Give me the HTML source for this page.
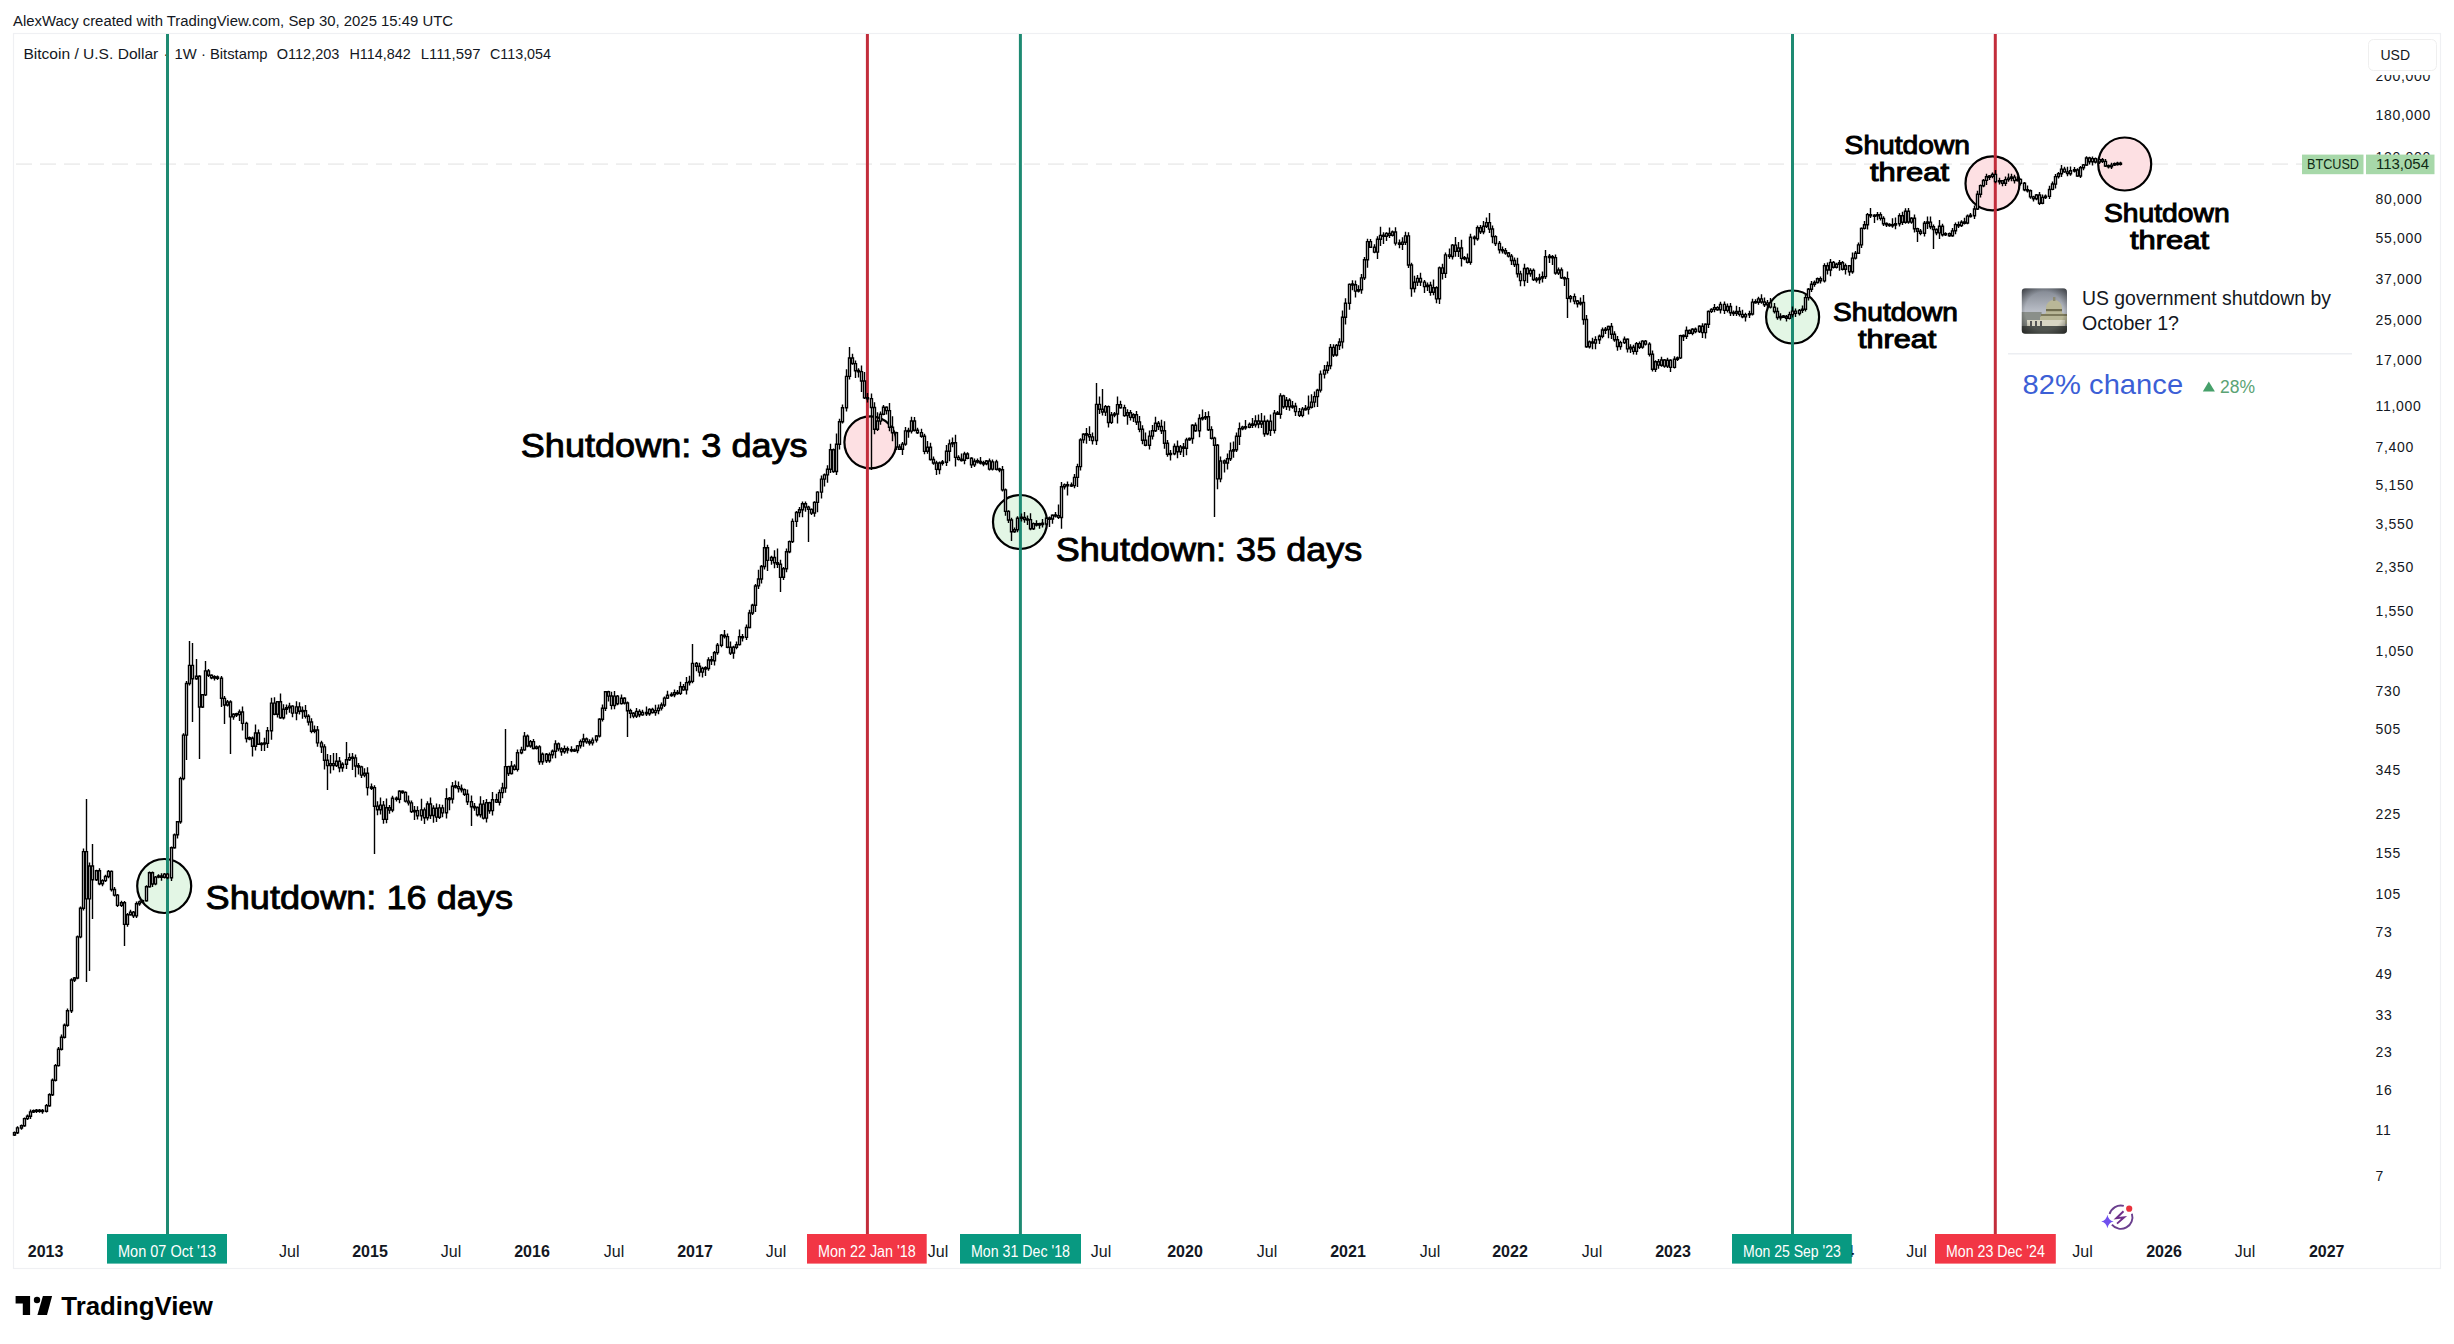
<!DOCTYPE html>
<html><head><meta charset="utf-8">
<style>
html,body{margin:0;padding:0;background:#fff;}
body{width:2454px;height:1344px;overflow:hidden;position:relative;font-family:"Liberation Sans",sans-serif;}
svg{position:absolute;left:0;top:0;}
text{font-family:"Liberation Sans",sans-serif;}
</style></head>
<body>
<svg width="2454" height="1344" viewBox="0 0 2454 1344">
<defs>
<clipPath id="clip200"><rect x="2360" y="75" width="80" height="20"/></clipPath>
<clipPath id="thumb"><rect x="2021.6" y="288.2" width="45.4" height="45.5" rx="4"/></clipPath>
<linearGradient id="sky" x1="0" y1="0" x2="0" y2="1"><stop offset="0" stop-color="#7f858f"/><stop offset="0.5" stop-color="#b9bdc6"/><stop offset="1" stop-color="#9a9e9c"/></linearGradient>
<radialGradient id="vig" cx="0.5" cy="0.5" r="0.7"><stop offset="0.6" stop-color="#000" stop-opacity="0"/><stop offset="1" stop-color="#000" stop-opacity="0.55"/></radialGradient>
</defs>
<rect x="0" y="0" width="2454" height="1344" fill="#fff"/>
<!-- header -->
<text x="13" y="25.7" font-size="15.5" fill="#131722" textLength="440" lengthAdjust="spacingAndGlyphs">AlexWacy created with TradingView.com, Sep 30, 2025 15:49 UTC</text>
<!-- frame -->
<rect x="13.5" y="33.5" width="2427" height="1235" fill="none" stroke="#eff0f3" stroke-width="1.2"/>
<!-- legend -->
<g font-size="15" fill="#131722">
<text x="23.4" y="59.3" textLength="134.9" lengthAdjust="spacingAndGlyphs">Bitcoin / U.S. Dollar</text>
<text x="163.4" y="59.3">·</text>
<text x="174.6" y="59.3" textLength="92.9" lengthAdjust="spacingAndGlyphs">1W · Bitstamp</text>
<text x="276.7" y="59.3" textLength="62.7" lengthAdjust="spacingAndGlyphs">O112,203</text>
<text x="349.4" y="59.3" textLength="61.3" lengthAdjust="spacingAndGlyphs">H114,842</text>
<text x="420.7" y="59.3" textLength="59.9" lengthAdjust="spacingAndGlyphs">L111,597</text>
<text x="490" y="59.3" textLength="61" lengthAdjust="spacingAndGlyphs">C113,054</text>
</g>
<!-- dotted last price line -->
<line x1="13" y1="164.2" x2="2302" y2="164.2" stroke="#eeeeee" stroke-width="1.8" stroke-dasharray="16 8" stroke-dashoffset="21"/>
<!-- circles -->
<circle cx="164.2" cy="886" r="27" fill="#e3f6e5" stroke="#000" stroke-width="2.2"/>
<circle cx="870.4" cy="442.3" r="26" fill="#fde0e3" stroke="#000" stroke-width="2.2"/>
<circle cx="1020" cy="522" r="27" fill="#e3f6e5" stroke="#000" stroke-width="2.2"/>
<circle cx="1792.6" cy="317" r="26.5" fill="#e3f6e5" stroke="#000" stroke-width="2.2"/>
<circle cx="1992.5" cy="183.4" r="27" fill="#fde0e3" stroke="#000" stroke-width="2.2"/>
<circle cx="2124.7" cy="164" r="26.5" fill="#fde0e3" stroke="#000" stroke-width="2.2"/>
<!-- vertical lines -->
<g stroke-width="3">
<line x1="167.5" y1="34" x2="167.5" y2="1234" stroke="#1e8a72"/>
<line x1="867.4" y1="34" x2="867.4" y2="1234" stroke="#c22d3b"/>
<line x1="1020.4" y1="34" x2="1020.4" y2="1234" stroke="#1e8a72"/>
<line x1="1792.5" y1="34" x2="1792.5" y2="1234" stroke="#1e8a72"/>
<line x1="1995.3" y1="34" x2="1995.3" y2="1234" stroke="#c22d3b"/>
</g>
<!-- candles -->
<path d="M14.5 1131.5V1136.0M17.5 1126.2V1133.9M21.5 1124.5V1129.8M24.5 1117.4V1126.8M27.5 1114.5V1119.9M30.5 1109.4V1118.9M33.5 1109.5V1113.1M36.5 1108.9V1112.9M39.5 1108.9V1112.8M42.5 1109.0V1113.7M46.5 1104.1V1112.5M49.5 1093.3V1106.7M52.5 1078.5V1096.1M55.5 1063.9V1081.4M58.5 1046.9V1066.4M61.5 1034.4V1050.4M64.5 1023.5V1038.6M67.5 1008.5V1026.8M71.5 978.2V1013.1M74.5 977.0V982.1M77.5 935.5V979.2M80.5 906.5V938.3M83.5 848.6V910.6M86.5 799.0V982.0M89.5 862.5V971.0M92.5 844.0V919.0M96.5 869.8V880.9M99.5 868.3V885.2M102.5 879.2V886.2M105.5 874.7V881.9M108.5 869.9V878.2M111.5 870.4V891.4M114.5 887.0V896.5M117.5 893.9V906.9M121.5 900.7V906.9M124.5 900.9V946.0M127.5 912.9V926.7M130.5 909.8V915.6M133.5 911.0V918.1M136.5 901.6V918.0M139.5 900.5V905.7M142.5 899.5V902.9M146.5 885.3V901.6M149.5 871.4V887.5M152.5 871.4V886.9M155.5 875.9V885.2M158.5 874.2V878.3M161.5 873.2V880.8M164.5 873.1V878.5M167.5 872.9V879.3M171.5 846.4V881.1M174.5 833.5V848.6M177.5 820.9V838.5M180.5 776.7V823.8M183.5 733.3V780.3M186.5 680.9V760.0M189.5 641.0V685.4M192.5 643.0V722.0M196.5 659.0V679.7M199.5 675.3V759.0M202.5 693.9V707.9M205.5 661.0V696.0M208.5 668.9V677.1M211.5 674.4V679.3M214.5 675.3V680.4M217.5 675.5V680.1M221.5 676.0V707.0M224.5 696.0V724.0M227.5 700.0V706.6M230.5 700.2V754.0M233.5 713.2V719.8M236.5 712.7V717.1M239.5 709.6V721.1M242.5 706.4V730.4M246.5 721.8V742.4M249.5 736.5V740.3M252.5 736.4V756.6M255.5 724.4V750.4M258.5 729.6V745.1M261.5 742.2V750.9M264.5 737.8V751.1M267.5 727.1V747.9M271.5 697.8V739.7M274.5 697.2V715.2M277.5 700.9V717.5M280.5 693.6V718.8M283.5 704.3V719.4M286.5 704.6V714.4M289.5 702.8V712.7M292.5 705.2V717.2M296.5 701.3V720.3M299.5 702.3V714.4M302.5 706.5V718.7M305.5 705.1V718.6M308.5 714.2V725.4M311.5 718.3V733.2M314.5 725.6V733.3M317.5 726.0V746.7M321.5 740.8V753.1M324.5 744.3V769.5M327.5 754.1V790.0M330.5 755.0V773.5M333.5 753.1V770.2M336.5 752.9V766.9M339.5 756.9V772.2M342.5 762.2V771.8M346.5 742.0V769.1M349.5 753.2V761.0M352.5 753.0V769.9M355.5 754.5V777.2M358.5 763.1V774.6M361.5 765.8V778.0M364.5 768.3V777.2M367.5 767.2V795.6M371.5 783.5V790.1M374.5 785.2V854.0M377.5 801.2V815.3M380.5 797.5V814.5M383.5 801.0V823.7M386.5 798.4V823.2M389.5 804.9V813.7M392.5 795.7V812.3M396.5 796.6V801.5M399.5 790.3V803.3M402.5 790.5V793.7M405.5 791.6V802.6M408.5 795.4V805.4M411.5 800.4V813.1M414.5 805.9V819.9M417.5 806.2V819.5M421.5 798.8V820.7M424.5 807.6V823.9M427.5 801.2V820.5M430.5 797.4V819.0M433.5 805.2V822.7M436.5 803.6V822.1M439.5 804.2V819.1M442.5 804.8V817.2M446.5 788.2V818.5M449.5 797.1V810.3M452.5 782.1V803.5M455.5 780.5V788.5M458.5 781.4V792.5M461.5 784.4V792.6M464.5 788.6V796.0M467.5 789.4V805.0M471.5 795.4V826.0M474.5 803.1V810.7M477.5 806.5V816.4M480.5 796.3V817.5M483.5 799.9V819.6M486.5 799.0V822.4M489.5 801.8V813.8M492.5 792.1V815.5M496.5 793.7V803.0M499.5 789.4V805.6M502.5 782.8V798.3M505.5 729.0V792.7M508.5 765.7V776.0M511.5 760.9V774.4M514.5 764.2V770.4M517.5 749.6V771.4M521.5 746.8V754.2M524.5 732.0V750.8M527.5 734.6V747.2M530.5 740.0V747.7M533.5 738.9V749.3M536.5 745.6V749.4M539.5 745.2V764.7M542.5 752.4V764.7M546.5 753.1V763.0M549.5 752.6V762.8M552.5 749.5V758.6M555.5 740.2V758.2M558.5 742.5V751.3M561.5 747.3V755.8M564.5 745.5V753.8M567.5 746.6V753.6M571.5 746.3V752.3M574.5 748.6V752.0M577.5 745.0V753.3M580.5 739.4V748.5M583.5 733.7V746.7M586.5 737.5V743.7M589.5 739.2V745.5M592.5 737.5V745.6M596.5 735.2V742.6M599.5 718.3V737.6M602.5 704.5V721.4M605.5 690.9V711.0M608.5 690.8V701.4M611.5 691.7V709.4M614.5 691.0V709.3M617.5 695.1V705.3M621.5 694.6V704.5M624.5 697.2V704.6M627.5 701.6V737.0M630.5 708.7V718.2M633.5 712.2V718.2M636.5 708.1V717.9M639.5 709.3V717.2M642.5 709.7V715.7M646.5 706.6V716.0M649.5 708.3V715.7M652.5 707.7V713.5M655.5 704.8V715.7M658.5 704.5V714.2M661.5 702.4V710.6M664.5 696.5V707.1M667.5 690.8V699.0M671.5 692.2V696.7M674.5 689.5V697.3M677.5 690.1V694.8M680.5 681.7V695.0M683.5 684.0V690.7M686.5 677.0V694.5M689.5 675.8V685.4M692.5 644.0V683.2M696.5 662.1V671.2M699.5 662.8V676.6M702.5 666.7V677.6M705.5 666.3V676.1M708.5 657.2V670.8M711.5 656.0V665.1M714.5 651.1V665.4M717.5 642.9V654.8M721.5 634.1V647.2M724.5 630.0V638.5M727.5 633.4V648.2M730.5 641.5V655.1M733.5 645.8V658.7M736.5 641.6V649.3M739.5 629.4V645.6M742.5 633.9V641.6M746.5 624.6V639.9M749.5 609.8V628.3M752.5 603.8V614.9M755.5 584.1V611.9M758.5 569.7V589.1M761.5 565.1V583.6M764.5 539.2V569.6M767.5 544.7V571.1M771.5 555.7V564.8M774.5 550.3V568.3M777.5 548.6V568.1M780.5 559.8V592.0M783.5 567.0V580.1M786.5 548.4V572.2M789.5 540.6V553.2M792.5 518.6V543.0M796.5 511.0V527.0M799.5 507.1V517.3M802.5 501.5V517.2M805.5 501.5V511.7M808.5 505.7V542.0M811.5 508.4V515.1M814.5 501.3V516.7M817.5 491.2V512.2M821.5 475.5V498.5M824.5 473.6V486.5M827.5 465.3V482.7M830.5 443.8V473.0M833.5 448.6V472.8M836.5 433.6V475.1M839.5 418.8V449.5M842.5 404.5V423.6M846.5 369.2V411.6M849.5 347.0V379.5M852.5 353.7V364.7M855.5 360.5V377.9M858.5 368.2V377.6M861.5 365.6V392.1M864.5 372.1V398.9M867.5 392.9V402.4M871.5 393.5V470.0M874.5 402.3V434.2M877.5 412.3V431.1M880.5 411.6V424.7M883.5 404.9V415.3M886.5 406.4V414.5M889.5 402.9V431.2M892.5 416.3V441.2M896.5 431.8V449.9M899.5 444.3V450.1M902.5 442.1V454.9M905.5 426.9V445.8M908.5 427.8V437.7M911.5 416.7V433.6M914.5 416.9V431.5M917.5 427.7V434.1M921.5 428.7V437.8M924.5 433.7V454.2M927.5 441.0V453.7M930.5 442.8V460.6M933.5 456.4V464.8M936.5 460.8V475.1M939.5 461.4V474.3M942.5 460.1V465.4M946.5 445.1V465.9M949.5 439.6V461.2M952.5 437.5V447.2M955.5 434.8V466.4M958.5 455.2V460.4M961.5 453.6V461.4M964.5 451.7V464.2M967.5 452.3V459.3M971.5 457.2V468.1M974.5 458.4V467.0M977.5 458.5V463.6M980.5 456.9V464.4M983.5 460.7V466.2M986.5 459.9V465.3M989.5 458.6V470.4M992.5 459.6V470.6M996.5 459.8V470.4M999.5 467.8V472.2M1002.5 466.0V491.6M1005.5 488.4V515.8M1008.5 510.2V522.9M1011.5 517.8V541.0M1014.5 527.6V532.7M1017.5 516.3V532.2M1021.5 513.5V521.6M1024.5 512.1V522.8M1027.5 515.5V525.0M1030.5 513.3V530.3M1033.5 522.6V530.1M1036.5 520.3V526.4M1039.5 522.7V528.7M1042.5 518.9V527.6M1046.5 517.3V525.8M1049.5 516.5V526.9M1052.5 514.4V523.7M1055.5 512.0V517.5M1058.5 504.4V519.1M1061.5 482.0V528.8M1064.5 483.6V489.6M1067.5 481.6V495.6M1071.5 482.6V487.0M1074.5 474.0V488.3M1077.5 463.7V487.1M1080.5 438.3V470.4M1083.5 433.3V443.2M1086.5 428.1V443.8M1089.5 426.2V441.1M1092.5 432.4V444.6M1096.5 383.0V444.9M1099.5 396.4V414.1M1102.5 389.0V415.6M1105.5 404.9V415.9M1108.5 405.5V427.6M1111.5 411.9V424.1M1114.5 411.9V417.2M1117.5 396.4V423.6M1120.5 400.8V408.6M1124.5 404.7V416.8M1127.5 409.2V424.8M1130.5 410.1V420.4M1133.5 413.2V422.0M1136.5 410.9V425.1M1139.5 415.9V432.3M1142.5 425.2V444.2M1145.5 432.4V446.2M1149.5 430.6V449.4M1152.5 424.9V439.4M1155.5 416.7V432.0M1158.5 421.0V429.9M1161.5 419.7V434.0M1164.5 421.2V448.7M1167.5 440.0V456.8M1170.5 450.1V460.4M1174.5 443.6V455.3M1177.5 440.5V458.3M1180.5 445.1V454.9M1183.5 442.9V457.1M1186.5 437.8V455.3M1189.5 437.4V440.8M1192.5 424.2V443.7M1195.5 422.6V431.7M1199.5 414.3V437.3M1202.5 409.6V420.4M1205.5 411.9V420.1M1208.5 411.2V431.1M1211.5 426.2V439.5M1214.5 436.8V517.0M1217.5 444.1V489.3M1220.5 456.6V482.3M1224.5 459.6V472.5M1227.5 453.4V469.4M1230.5 442.6V460.9M1233.5 441.5V457.7M1236.5 432.4V452.1M1239.5 422.5V444.9M1242.5 425.7V430.2M1245.5 420.1V429.8M1249.5 422.6V428.3M1252.5 417.9V428.1M1255.5 415.3V427.6M1258.5 414.6V428.3M1261.5 413.1V428.0M1264.5 415.6V436.7M1267.5 419.6V435.3M1270.5 414.5V436.1M1274.5 410.0V433.5M1277.5 411.1V415.1M1280.5 393.3V418.7M1283.5 394.7V408.7M1286.5 397.0V410.0M1289.5 398.3V410.8M1292.5 401.0V408.7M1295.5 402.8V415.9M1299.5 408.0V416.9M1302.5 407.0V417.2M1305.5 405.0V410.5M1308.5 395.5V414.6M1311.5 394.2V408.5M1314.5 391.5V407.2M1317.5 388.7V406.9M1320.5 370.6V392.4M1324.5 365.1V378.5M1327.5 361.5V373.4M1330.5 344.0V369.3M1333.5 344.3V357.1M1336.5 343.9V356.4M1339.5 338.2V350.0M1342.5 310.5V348.4M1345.5 298.2V324.5M1349.5 283.5V309.8M1352.5 280.3V290.2M1355.5 280.5V297.4M1358.5 285.3V292.6M1361.5 274.1V293.7M1364.5 257.1V279.9M1367.5 238.7V267.8M1370.5 239.0V248.1M1374.5 244.2V253.2M1377.5 236.3V259.0M1380.5 226.8V245.9M1383.5 232.2V244.0M1386.5 232.2V241.1M1389.5 227.5V238.0M1392.5 230.5V236.6M1395.5 227.3V245.5M1399.5 239.4V248.2M1402.5 237.3V250.1M1405.5 231.7V245.1M1408.5 232.3V268.1M1411.5 262.8V296.8M1414.5 275.7V292.6M1417.5 275.1V286.1M1420.5 272.8V286.0M1424.5 280.1V293.1M1427.5 282.4V291.0M1430.5 281.7V295.7M1433.5 279.4V295.3M1436.5 286.3V303.2M1439.5 266.5V304.1M1442.5 263.8V279.6M1445.5 252.5V278.0M1449.5 248.6V258.7M1452.5 243.9V259.4M1455.5 236.9V256.8M1458.5 242.0V256.9M1461.5 239.8V266.4M1464.5 255.9V260.2M1467.5 253.6V263.5M1470.5 233.8V264.8M1474.5 235.5V245.2M1477.5 225.4V240.7M1480.5 225.1V234.0M1483.5 221.1V234.3M1486.5 217.4V228.0M1489.5 212.9V232.9M1492.5 225.6V243.2M1495.5 235.2V245.9M1499.5 241.0V253.4M1502.5 246.6V253.5M1505.5 247.9V254.8M1508.5 252.1V257.4M1511.5 254.1V265.0M1514.5 257.6V267.1M1517.5 257.7V277.6M1520.5 270.8V286.3M1524.5 263.7V286.3M1527.5 267.3V283.0M1530.5 268.2V276.8M1533.5 268.5V280.9M1536.5 277.0V282.5M1539.5 273.8V283.7M1542.5 271.4V282.5M1545.5 249.9V279.0M1549.5 253.9V263.1M1552.5 254.9V265.1M1555.5 254.4V274.8M1558.5 267.4V275.0M1561.5 267.4V278.9M1564.5 276.6V285.9M1567.5 271.6V318.0M1570.5 294.9V302.4M1574.5 293.4V304.2M1577.5 299.9V307.6M1580.5 297.4V305.4M1583.5 294.9V324.7M1586.5 315.0V347.8M1589.5 340.6V348.5M1592.5 337.8V349.2M1595.5 336.3V349.2M1599.5 334.6V343.9M1602.5 327.4V338.2M1605.5 326.9V333.9M1608.5 325.7V338.2M1611.5 322.9V339.1M1614.5 331.3V341.7M1617.5 336.0V350.8M1620.5 340.8V349.8M1624.5 336.5V344.0M1627.5 338.4V352.4M1630.5 344.2V352.9M1633.5 344.8V354.4M1636.5 341.9V354.8M1639.5 341.6V349.0M1642.5 340.3V348.8M1645.5 339.9V345.6M1649.5 342.3V356.6M1652.5 350.5V371.5M1655.5 360.3V372.1M1658.5 359.1V368.8M1661.5 356.8V366.8M1664.5 358.9V367.8M1667.5 357.7V367.9M1670.5 359.3V372.0M1674.5 356.3V368.4M1677.5 356.6V360.9M1680.5 334.8V358.9M1683.5 334.5V341.1M1686.5 326.4V339.1M1689.5 329.5V334.3M1692.5 328.3V335.3M1695.5 327.4V333.2M1699.5 325.3V333.1M1702.5 323.2V337.9M1705.5 323.4V338.5M1708.5 310.4V328.0M1711.5 308.3V313.0M1714.5 303.9V312.2M1717.5 306.2V310.7M1720.5 301.7V313.4M1724.5 301.4V314.0M1727.5 303.5V312.6M1730.5 303.0V315.9M1733.5 310.4V315.9M1736.5 305.7V316.1M1739.5 307.1V316.5M1742.5 309.8V318.2M1745.5 312.7V321.4M1749.5 310.7V317.9M1752.5 298.8V315.5M1755.5 299.2V303.6M1758.5 296.8V304.8M1761.5 294.3V303.8M1764.5 297.4V307.1M1767.5 299.9V308.6M1770.5 298.0V308.5M1774.5 302.9V313.6M1777.5 307.5V319.7M1780.5 313.3V320.5M1783.5 314.9V318.1M1786.5 315.1V321.4M1789.5 311.8V319.4M1792.5 306.4V317.5M1795.5 308.6V317.0M1799.5 309.1V315.5M1802.5 305.4V313.0M1805.5 294.7V311.5M1808.5 287.9V300.5M1811.5 281.0V291.9M1814.5 280.4V286.7M1817.5 277.6V283.4M1820.5 276.6V283.4M1824.5 263.2V282.4M1827.5 262.4V274.5M1830.5 259.1V276.3M1833.5 260.9V268.5M1836.5 262.8V268.4M1839.5 260.1V270.8M1842.5 261.1V270.5M1845.5 263.6V274.6M1849.5 264.9V275.8M1852.5 252.4V273.8M1855.5 251.0V259.4M1858.5 242.4V254.1M1861.5 227.5V248.0M1864.5 220.9V229.6M1867.5 212.9V229.4M1870.5 208.0V217.9M1874.5 214.2V223.1M1877.5 212.1V220.2M1880.5 212.3V220.5M1883.5 216.3V226.0M1886.5 222.6V226.9M1889.5 223.2V226.7M1892.5 218.3V227.8M1895.5 217.4V229.2M1899.5 213.3V226.6M1902.5 211.8V224.9M1905.5 208.3V223.7M1908.5 208.0V223.8M1911.5 217.3V223.7M1914.5 214.4V232.6M1917.5 227.7V242.0M1920.5 228.9V235.2M1924.5 221.1V236.5M1927.5 216.6V229.0M1930.5 216.6V229.3M1933.5 224.6V249.0M1936.5 228.6V235.2M1939.5 220.0V239.0M1942.5 223.8V236.6M1945.5 232.3V235.9M1949.5 232.5V236.7M1952.5 228.1V236.7M1955.5 222.4V234.2M1958.5 221.5V227.9M1961.5 220.3V227.0M1964.5 217.7V224.4M1967.5 214.4V224.3M1970.5 212.9V217.6M1974.5 205.6V218.9M1977.5 190.8V210.1M1980.5 184.6V197.4M1983.5 179.0V187.2M1986.5 173.7V184.9M1989.5 175.2V180.0M1992.5 172.4V178.3M1995.5 169.9V183.2M1999.5 177.8V184.6M2002.5 179.9V186.3M2005.5 176.5V186.1M2008.5 173.6V181.8M2011.5 173.7V181.2M2014.5 174.8V183.6M2017.5 176.2V181.6M2020.5 178.5V185.4M2024.5 182.1V191.3M2027.5 185.4V192.5M2030.5 189.6V198.8M2033.5 195.8V201.5M2036.5 194.0V200.3M2039.5 192.1V205.0M2042.5 194.5V204.2M2045.5 194.6V199.1M2049.5 185.7V199.0M2052.5 181.4V190.3M2055.5 173.9V188.4M2058.5 171.9V178.5M2061.5 165.1V177.1M2064.5 166.8V172.8M2067.5 166.8V176.3M2070.5 166.6V175.7M2074.5 167.1V172.4M2077.5 168.2V176.8M2080.5 166.0V177.9M2083.5 164.0V170.3M2086.5 156.3V165.8M2089.5 156.7V164.6M2092.5 156.6V165.6M2095.5 157.5V163.6M2099.5 158.3V164.0M2102.5 157.9V163.0M2105.5 159.0V167.0M2108.5 164.6V168.5M2111.5 162.8V168.9M2114.5 162.4V166.1M2117.5 161.7V165.5M2120.5 161.8V165.5" stroke="#000" stroke-width="1.4" fill="none"/>
<path d="M13.5 1132.8h2v2.2h-2zM16.5 1127.9h2v4.9h-2zM20.5 1125.8h2v2.2h-2zM23.5 1118.6h2v7.2h-2zM26.5 1116.2h2v2.4h-2zM29.5 1111.9h2v4.3h-2zM32.5 1110.8h2v1.2h-2zM35.5 1110.2h2v1.2h-2zM38.5 1110.1h2v1.2h-2zM41.5 1110.4h2v1.2h-2zM45.5 1105.6h2v5.7h-2zM48.5 1094.8h2v10.9h-2zM51.5 1080.3h2v14.5h-2zM54.5 1065.6h2v14.7h-2zM57.5 1049.3h2v16.3h-2zM60.5 1037.3h2v12.0h-2zM63.5 1025.2h2v12.1h-2zM66.5 1010.8h2v14.4h-2zM70.5 980.0h2v30.8h-2zM73.5 978.0h2v2.0h-2zM76.5 936.9h2v41.1h-2zM79.5 908.3h2v28.6h-2zM82.5 851.6h2v56.7h-2zM85.5 851.6h2v47.3h-2zM88.5 866.0h2v32.9h-2zM91.5 866.0h2v13.8h-2zM95.5 870.8h2v9.0h-2zM98.5 870.8h2v13.0h-2zM101.5 880.6h2v3.2h-2zM104.5 876.5h2v4.1h-2zM107.5 871.4h2v5.1h-2zM110.5 871.4h2v18.1h-2zM113.5 889.5h2v5.6h-2zM116.5 895.1h2v10.3h-2zM120.5 902.8h2v2.6h-2zM123.5 902.8h2v21.6h-2zM126.5 914.7h2v9.7h-2zM129.5 912.1h2v2.6h-2zM132.5 912.1h2v3.8h-2zM135.5 903.8h2v12.1h-2zM138.5 901.9h2v1.8h-2zM141.5 900.7h2v1.3h-2zM145.5 886.7h2v14.0h-2zM148.5 872.8h2v13.9h-2zM151.5 872.8h2v11.2h-2zM154.5 877.1h2v6.8h-2zM157.5 875.9h2v1.2h-2zM160.5 875.9h2v1.3h-2zM163.5 874.1h2v3.1h-2zM166.5 874.1h2v3.7h-2zM170.5 847.7h2v30.1h-2zM173.5 834.9h2v12.9h-2zM176.5 821.7h2v13.1h-2zM179.5 778.6h2v43.2h-2zM182.5 735.1h2v43.4h-2zM185.5 683.5h2v51.6h-2zM188.5 665.4h2v18.1h-2zM191.5 665.4h2v13.4h-2zM195.5 676.2h2v2.5h-2zM198.5 676.2h2v30.8h-2zM201.5 694.8h2v12.2h-2zM204.5 670.9h2v24.0h-2zM207.5 670.9h2v4.4h-2zM210.5 675.3h2v2.4h-2zM213.5 676.8h2v1.2h-2zM216.5 677.0h2v1.3h-2zM220.5 678.3h2v20.0h-2zM223.5 698.4h2v6.6h-2zM226.5 702.0h2v3.0h-2zM229.5 702.0h2v14.9h-2zM232.5 714.2h2v2.7h-2zM235.5 713.8h2v1.2h-2zM238.5 712.0h2v2.6h-2zM241.5 712.0h2v11.4h-2zM245.5 723.4h2v15.1h-2zM248.5 737.8h2v1.2h-2zM251.5 738.3h2v7.9h-2zM254.5 733.0h2v13.2h-2zM257.5 733.0h2v11.3h-2zM260.5 743.4h2v1.2h-2zM263.5 742.9h2v1.2h-2zM266.5 730.7h2v12.7h-2zM270.5 703.1h2v27.6h-2zM273.5 703.1h2v11.2h-2zM276.5 701.8h2v12.5h-2zM279.5 701.8h2v15.9h-2zM282.5 709.2h2v8.6h-2zM285.5 707.7h2v1.5h-2zM288.5 706.1h2v1.6h-2zM291.5 706.1h2v7.0h-2zM295.5 706.9h2v6.1h-2zM298.5 706.9h2v4.4h-2zM301.5 710.4h2v1.2h-2zM304.5 710.8h2v5.5h-2zM307.5 716.3h2v5.7h-2zM310.5 722.0h2v9.3h-2zM313.5 730.0h2v1.3h-2zM316.5 730.0h2v12.9h-2zM320.5 742.9h2v4.0h-2zM323.5 746.9h2v13.3h-2zM326.5 760.2h2v5.4h-2zM329.5 763.7h2v1.9h-2zM332.5 763.7h2v1.9h-2zM335.5 761.3h2v4.3h-2zM338.5 761.3h2v6.4h-2zM341.5 764.2h2v3.5h-2zM345.5 759.8h2v4.4h-2zM348.5 757.6h2v2.2h-2zM351.5 757.1h2v1.2h-2zM354.5 757.9h2v8.1h-2zM357.5 765.8h2v1.2h-2zM360.5 766.9h2v8.2h-2zM363.5 773.3h2v1.8h-2zM366.5 773.3h2v14.3h-2zM370.5 787.0h2v1.2h-2zM373.5 787.6h2v18.6h-2zM376.5 806.1h2v3.6h-2zM379.5 805.1h2v4.7h-2zM382.5 805.1h2v14.3h-2zM385.5 807.8h2v11.6h-2zM388.5 807.8h2v2.3h-2zM391.5 798.3h2v11.7h-2zM395.5 798.2h2v1.2h-2zM398.5 791.3h2v8.0h-2zM401.5 791.3h2v1.2h-2zM404.5 792.4h2v8.7h-2zM407.5 801.1h2v1.8h-2zM410.5 802.9h2v8.7h-2zM413.5 810.5h2v1.2h-2zM416.5 810.6h2v5.2h-2zM420.5 809.9h2v5.9h-2zM423.5 809.9h2v7.9h-2zM426.5 804.0h2v13.7h-2zM429.5 804.0h2v11.5h-2zM432.5 808.3h2v7.2h-2zM435.5 808.3h2v8.8h-2zM438.5 807.9h2v9.3h-2zM441.5 807.9h2v5.0h-2zM445.5 798.8h2v14.0h-2zM448.5 798.3h2v1.2h-2zM451.5 786.3h2v12.7h-2zM454.5 785.8h2v1.2h-2zM457.5 786.6h2v2.0h-2zM460.5 788.5h2v1.2h-2zM463.5 789.6h2v4.6h-2zM466.5 794.2h2v7.5h-2zM470.5 801.8h2v4.9h-2zM473.5 806.5h2v1.2h-2zM476.5 807.5h2v7.3h-2zM479.5 804.1h2v10.7h-2zM482.5 804.1h2v14.0h-2zM485.5 802.8h2v15.3h-2zM488.5 802.8h2v7.9h-2zM491.5 799.8h2v10.8h-2zM495.5 799.8h2v2.3h-2zM498.5 792.6h2v9.6h-2zM501.5 788.0h2v4.6h-2zM504.5 766.6h2v21.4h-2zM507.5 766.6h2v6.9h-2zM510.5 766.1h2v7.4h-2zM513.5 766.1h2v3.3h-2zM516.5 752.8h2v16.6h-2zM520.5 749.9h2v2.9h-2zM523.5 736.1h2v13.8h-2zM526.5 736.1h2v9.9h-2zM529.5 741.6h2v4.4h-2zM532.5 741.6h2v6.9h-2zM535.5 746.9h2v1.5h-2zM538.5 746.9h2v14.9h-2zM541.5 754.2h2v7.6h-2zM545.5 754.2h2v6.6h-2zM548.5 754.8h2v6.0h-2zM551.5 751.2h2v3.6h-2zM554.5 743.9h2v7.3h-2zM557.5 743.9h2v5.0h-2zM560.5 749.0h2v2.8h-2zM563.5 748.7h2v3.0h-2zM566.5 748.7h2v1.4h-2zM570.5 749.7h2v1.2h-2zM573.5 749.9h2v1.2h-2zM576.5 745.9h2v4.6h-2zM579.5 741.6h2v4.2h-2zM582.5 739.0h2v2.7h-2zM585.5 739.0h2v2.9h-2zM588.5 741.8h2v1.2h-2zM591.5 740.1h2v2.8h-2zM595.5 736.0h2v4.0h-2zM598.5 719.2h2v16.8h-2zM601.5 708.2h2v11.0h-2zM604.5 691.8h2v16.4h-2zM607.5 691.8h2v4.3h-2zM610.5 696.0h2v9.4h-2zM613.5 696.1h2v9.4h-2zM616.5 696.1h2v7.6h-2zM620.5 698.2h2v5.4h-2zM623.5 698.2h2v4.8h-2zM626.5 703.0h2v7.8h-2zM629.5 710.8h2v2.5h-2zM632.5 713.3h2v2.8h-2zM635.5 711.4h2v4.7h-2zM638.5 711.4h2v3.4h-2zM641.5 712.4h2v2.5h-2zM645.5 712.4h2v1.4h-2zM648.5 709.5h2v4.3h-2zM651.5 709.5h2v3.1h-2zM654.5 710.6h2v2.0h-2zM657.5 708.1h2v2.5h-2zM660.5 705.0h2v3.1h-2zM663.5 698.1h2v6.9h-2zM666.5 695.3h2v2.8h-2zM670.5 694.4h2v1.2h-2zM673.5 692.7h2v2.1h-2zM676.5 692.4h2v1.2h-2zM679.5 686.7h2v6.7h-2zM682.5 686.7h2v3.2h-2zM685.5 682.6h2v7.3h-2zM688.5 681.4h2v1.2h-2zM691.5 663.4h2v18.0h-2zM695.5 663.4h2v2.9h-2zM698.5 666.3h2v5.8h-2zM701.5 668.4h2v3.7h-2zM704.5 667.8h2v1.2h-2zM707.5 660.0h2v8.5h-2zM710.5 659.7h2v1.2h-2zM713.5 652.7h2v8.1h-2zM716.5 645.3h2v7.3h-2zM720.5 635.1h2v10.2h-2zM723.5 635.1h2v1.4h-2zM726.5 636.6h2v10.6h-2zM729.5 647.2h2v5.9h-2zM732.5 647.2h2v5.8h-2zM735.5 644.7h2v2.6h-2zM738.5 636.8h2v7.8h-2zM741.5 636.6h2v1.2h-2zM745.5 627.4h2v10.0h-2zM748.5 613.0h2v14.5h-2zM751.5 605.2h2v7.8h-2zM754.5 586.0h2v19.2h-2zM757.5 579.0h2v6.9h-2zM760.5 566.5h2v12.5h-2zM763.5 547.8h2v18.7h-2zM766.5 547.8h2v12.6h-2zM770.5 557.5h2v2.9h-2zM773.5 557.5h2v5.3h-2zM776.5 562.8h2v1.4h-2zM779.5 564.2h2v13.2h-2zM782.5 568.8h2v8.5h-2zM785.5 551.7h2v17.1h-2zM788.5 541.6h2v10.1h-2zM791.5 521.4h2v20.2h-2zM795.5 512.5h2v8.9h-2zM798.5 509.8h2v2.7h-2zM801.5 503.7h2v6.1h-2zM804.5 503.7h2v3.4h-2zM807.5 507.1h2v2.2h-2zM810.5 509.4h2v3.7h-2zM813.5 502.4h2v10.6h-2zM816.5 492.1h2v10.3h-2zM820.5 479.1h2v13.0h-2zM823.5 474.9h2v4.2h-2zM826.5 469.2h2v5.7h-2zM829.5 449.7h2v19.5h-2zM832.5 449.7h2v21.8h-2zM835.5 444.3h2v27.2h-2zM838.5 421.7h2v22.6h-2zM841.5 407.7h2v14.0h-2zM845.5 376.4h2v31.3h-2zM848.5 358.0h2v18.4h-2zM851.5 358.0h2v5.5h-2zM854.5 363.6h2v7.1h-2zM857.5 370.5h2v1.2h-2zM860.5 371.6h2v9.4h-2zM863.5 381.0h2v16.9h-2zM866.5 397.7h2v1.2h-2zM870.5 398.6h2v8.9h-2zM873.5 407.5h2v21.7h-2zM876.5 421.0h2v8.2h-2zM879.5 414.3h2v6.8h-2zM882.5 407.3h2v7.0h-2zM885.5 407.3h2v3.3h-2zM888.5 410.6h2v16.6h-2zM891.5 427.2h2v5.5h-2zM895.5 432.7h2v14.3h-2zM898.5 447.0h2v2.2h-2zM901.5 444.1h2v5.1h-2zM904.5 430.9h2v13.2h-2zM907.5 430.4h2v1.2h-2zM910.5 421.0h2v10.1h-2zM913.5 421.0h2v9.3h-2zM916.5 430.3h2v2.4h-2zM920.5 432.6h2v3.6h-2zM923.5 436.3h2v15.1h-2zM926.5 447.2h2v4.1h-2zM929.5 447.2h2v12.3h-2zM932.5 459.5h2v3.5h-2zM935.5 463.0h2v6.4h-2zM938.5 463.0h2v6.5h-2zM941.5 462.0h2v1.2h-2zM945.5 451.2h2v11.1h-2zM948.5 443.9h2v7.3h-2zM951.5 442.7h2v1.2h-2zM954.5 442.8h2v14.6h-2zM957.5 457.4h2v2.0h-2zM960.5 459.3h2v1.2h-2zM963.5 454.0h2v6.3h-2zM966.5 454.0h2v4.2h-2zM970.5 458.2h2v6.7h-2zM973.5 461.2h2v3.7h-2zM976.5 460.8h2v1.2h-2zM979.5 461.5h2v1.5h-2zM982.5 462.8h2v1.2h-2zM985.5 461.0h2v2.7h-2zM988.5 461.0h2v8.1h-2zM991.5 461.9h2v7.2h-2zM995.5 461.9h2v7.3h-2zM998.5 468.9h2v1.2h-2zM1001.5 469.8h2v20.1h-2zM1004.5 489.9h2v21.5h-2zM1007.5 511.4h2v8.6h-2zM1010.5 520.0h2v11.8h-2zM1013.5 529.7h2v2.1h-2zM1016.5 518.2h2v11.6h-2zM1020.5 517.2h2v1.2h-2zM1023.5 517.5h2v2.0h-2zM1026.5 518.9h2v1.2h-2zM1029.5 519.6h2v9.1h-2zM1032.5 523.6h2v5.2h-2zM1035.5 523.6h2v1.4h-2zM1038.5 523.8h2v1.2h-2zM1041.5 523.3h2v1.2h-2zM1045.5 518.2h2v5.8h-2zM1048.5 518.0h2v1.2h-2zM1051.5 515.3h2v3.7h-2zM1054.5 514.9h2v1.2h-2zM1057.5 515.6h2v1.8h-2zM1060.5 486.7h2v30.8h-2zM1063.5 484.9h2v1.8h-2zM1066.5 484.6h2v1.2h-2zM1070.5 484.9h2v1.2h-2zM1073.5 477.4h2v8.2h-2zM1076.5 466.6h2v10.8h-2zM1079.5 440.0h2v26.6h-2zM1082.5 434.2h2v5.7h-2zM1085.5 433.8h2v1.2h-2zM1088.5 434.6h2v2.2h-2zM1091.5 436.9h2v3.7h-2zM1095.5 404.4h2v36.1h-2zM1098.5 404.4h2v4.9h-2zM1101.5 409.3h2v2.7h-2zM1104.5 406.6h2v5.5h-2zM1107.5 406.6h2v15.9h-2zM1110.5 415.0h2v7.4h-2zM1113.5 413.9h2v1.2h-2zM1116.5 404.6h2v9.4h-2zM1119.5 404.6h2v3.2h-2zM1123.5 407.8h2v7.8h-2zM1126.5 412.8h2v2.7h-2zM1129.5 412.8h2v4.6h-2zM1132.5 414.7h2v2.8h-2zM1135.5 414.7h2v7.3h-2zM1138.5 421.9h2v7.3h-2zM1141.5 429.2h2v11.0h-2zM1144.5 440.2h2v5.1h-2zM1148.5 436.1h2v9.2h-2zM1151.5 430.8h2v5.3h-2zM1154.5 423.2h2v7.6h-2zM1157.5 423.2h2v3.3h-2zM1160.5 426.5h2v4.2h-2zM1163.5 430.7h2v12.5h-2zM1166.5 443.2h2v11.1h-2zM1169.5 453.4h2v1.2h-2zM1173.5 446.5h2v7.2h-2zM1176.5 446.5h2v5.3h-2zM1179.5 446.9h2v4.9h-2zM1182.5 446.9h2v1.4h-2zM1185.5 439.9h2v8.4h-2zM1188.5 438.5h2v1.3h-2zM1191.5 425.2h2v13.3h-2zM1194.5 425.2h2v5.6h-2zM1198.5 418.5h2v12.2h-2zM1201.5 417.6h2v1.2h-2zM1204.5 416.7h2v1.2h-2zM1207.5 416.7h2v13.1h-2zM1210.5 429.8h2v8.4h-2zM1213.5 438.1h2v7.2h-2zM1216.5 445.3h2v33.6h-2zM1219.5 461.0h2v17.9h-2zM1223.5 461.0h2v2.0h-2zM1226.5 458.7h2v4.3h-2zM1229.5 450.9h2v7.8h-2zM1232.5 449.8h2v1.2h-2zM1235.5 436.3h2v13.5h-2zM1238.5 428.7h2v7.6h-2zM1241.5 427.1h2v1.6h-2zM1244.5 426.6h2v1.2h-2zM1248.5 424.5h2v2.8h-2zM1251.5 424.0h2v1.2h-2zM1254.5 421.0h2v3.7h-2zM1257.5 421.0h2v3.0h-2zM1260.5 421.3h2v2.7h-2zM1263.5 421.3h2v12.5h-2zM1266.5 421.2h2v12.6h-2zM1269.5 421.2h2v9.1h-2zM1273.5 413.1h2v17.2h-2zM1276.5 413.0h2v1.2h-2zM1279.5 395.9h2v18.3h-2zM1282.5 395.9h2v10.8h-2zM1285.5 400.2h2v6.4h-2zM1288.5 400.2h2v6.5h-2zM1291.5 405.9h2v1.2h-2zM1294.5 406.3h2v5.3h-2zM1298.5 411.6h2v3.8h-2zM1301.5 409.1h2v6.3h-2zM1304.5 408.5h2v1.2h-2zM1307.5 407.3h2v1.8h-2zM1310.5 402.1h2v5.2h-2zM1313.5 396.6h2v5.5h-2zM1316.5 390.2h2v6.4h-2zM1319.5 374.1h2v16.0h-2zM1323.5 370.3h2v3.8h-2zM1326.5 365.8h2v4.5h-2zM1329.5 347.4h2v18.3h-2zM1332.5 347.4h2v7.6h-2zM1335.5 345.4h2v9.6h-2zM1338.5 342.0h2v3.5h-2zM1341.5 317.2h2v24.7h-2zM1344.5 303.3h2v13.9h-2zM1348.5 284.4h2v18.9h-2zM1351.5 283.9h2v1.2h-2zM1354.5 284.7h2v6.4h-2zM1357.5 289.8h2v1.3h-2zM1360.5 277.9h2v11.9h-2zM1363.5 259.8h2v18.1h-2zM1366.5 241.6h2v18.2h-2zM1369.5 241.6h2v5.6h-2zM1373.5 247.3h2v4.8h-2zM1376.5 239.3h2v12.8h-2zM1379.5 235.4h2v3.8h-2zM1382.5 235.2h2v1.2h-2zM1385.5 233.4h2v2.8h-2zM1388.5 233.4h2v1.8h-2zM1391.5 232.0h2v3.2h-2zM1394.5 232.0h2v11.1h-2zM1398.5 243.0h2v1.2h-2zM1401.5 242.1h2v2.1h-2zM1404.5 235.9h2v6.3h-2zM1407.5 235.9h2v29.1h-2zM1410.5 265.0h2v23.5h-2zM1413.5 282.2h2v6.3h-2zM1416.5 278.4h2v3.7h-2zM1419.5 278.4h2v3.6h-2zM1423.5 282.1h2v4.5h-2zM1426.5 285.2h2v1.4h-2zM1429.5 285.2h2v7.0h-2zM1432.5 287.8h2v4.5h-2zM1435.5 287.8h2v11.1h-2zM1438.5 267.9h2v30.9h-2zM1441.5 267.9h2v5.5h-2zM1444.5 254.9h2v18.5h-2zM1448.5 254.9h2v1.5h-2zM1451.5 245.1h2v11.4h-2zM1454.5 245.1h2v6.3h-2zM1457.5 248.0h2v3.3h-2zM1460.5 248.0h2v10.4h-2zM1463.5 257.7h2v1.2h-2zM1466.5 258.1h2v4.2h-2zM1469.5 237.2h2v25.1h-2zM1473.5 237.2h2v1.4h-2zM1476.5 227.8h2v10.9h-2zM1479.5 227.8h2v3.9h-2zM1482.5 226.3h2v5.4h-2zM1485.5 222.6h2v3.7h-2zM1488.5 222.6h2v6.5h-2zM1491.5 229.0h2v7.5h-2zM1494.5 236.6h2v6.9h-2zM1498.5 243.4h2v6.4h-2zM1501.5 249.6h2v1.2h-2zM1504.5 250.7h2v2.3h-2zM1507.5 253.0h2v3.1h-2zM1510.5 256.1h2v4.4h-2zM1513.5 260.5h2v4.0h-2zM1516.5 264.5h2v9.3h-2zM1519.5 273.9h2v6.7h-2zM1523.5 268.5h2v12.1h-2zM1526.5 268.5h2v5.3h-2zM1529.5 270.4h2v3.4h-2zM1532.5 270.4h2v9.1h-2zM1535.5 278.9h2v1.2h-2zM1538.5 278.0h2v1.5h-2zM1541.5 276.7h2v1.3h-2zM1544.5 256.8h2v19.8h-2zM1548.5 256.3h2v1.2h-2zM1551.5 256.7h2v1.2h-2zM1554.5 257.6h2v15.4h-2zM1557.5 270.0h2v3.1h-2zM1560.5 270.0h2v7.7h-2zM1563.5 277.6h2v1.2h-2zM1566.5 278.6h2v19.8h-2zM1569.5 296.6h2v1.9h-2zM1573.5 296.6h2v4.5h-2zM1576.5 301.0h2v2.8h-2zM1579.5 302.5h2v1.3h-2zM1582.5 302.5h2v17.0h-2zM1585.5 319.5h2v27.3h-2zM1588.5 341.9h2v4.9h-2zM1591.5 341.9h2v1.2h-2zM1594.5 339.8h2v3.3h-2zM1598.5 336.2h2v3.6h-2zM1601.5 330.0h2v6.2h-2zM1604.5 329.2h2v1.2h-2zM1607.5 326.5h2v3.0h-2zM1610.5 326.5h2v7.7h-2zM1613.5 334.2h2v5.6h-2zM1616.5 339.8h2v6.7h-2zM1619.5 342.6h2v4.0h-2zM1623.5 339.3h2v3.3h-2zM1626.5 339.3h2v9.6h-2zM1629.5 347.2h2v1.7h-2zM1632.5 347.2h2v4.2h-2zM1635.5 343.6h2v7.8h-2zM1638.5 343.6h2v3.6h-2zM1641.5 341.1h2v6.0h-2zM1644.5 341.1h2v3.0h-2zM1648.5 344.1h2v10.2h-2zM1651.5 354.3h2v15.0h-2zM1654.5 361.7h2v7.6h-2zM1657.5 361.7h2v3.4h-2zM1660.5 360.0h2v5.2h-2zM1663.5 360.0h2v6.1h-2zM1666.5 360.3h2v5.8h-2zM1669.5 360.3h2v7.1h-2zM1673.5 359.3h2v8.1h-2zM1676.5 357.9h2v1.4h-2zM1679.5 335.8h2v22.1h-2zM1682.5 335.4h2v1.2h-2zM1685.5 330.5h2v5.8h-2zM1688.5 330.5h2v2.7h-2zM1691.5 329.2h2v4.0h-2zM1694.5 329.2h2v2.3h-2zM1698.5 326.2h2v5.3h-2zM1701.5 326.2h2v6.4h-2zM1704.5 324.3h2v8.3h-2zM1707.5 311.5h2v12.8h-2zM1710.5 309.4h2v2.0h-2zM1713.5 307.6h2v1.8h-2zM1716.5 307.6h2v2.2h-2zM1719.5 304.4h2v5.4h-2zM1723.5 304.4h2v6.0h-2zM1726.5 306.5h2v3.9h-2zM1729.5 306.5h2v6.3h-2zM1732.5 312.4h2v1.2h-2zM1735.5 311.5h2v1.7h-2zM1738.5 311.5h2v2.8h-2zM1741.5 314.4h2v2.4h-2zM1744.5 314.6h2v2.3h-2zM1748.5 313.7h2v1.2h-2zM1751.5 302.1h2v11.9h-2zM1754.5 301.6h2v1.2h-2zM1757.5 298.9h2v3.4h-2zM1760.5 298.9h2v3.1h-2zM1763.5 302.0h2v2.8h-2zM1766.5 302.9h2v1.8h-2zM1769.5 302.9h2v4.2h-2zM1773.5 307.2h2v4.3h-2zM1776.5 311.5h2v6.0h-2zM1779.5 316.5h2v1.2h-2zM1782.5 316.0h2v1.2h-2zM1785.5 316.5h2v1.8h-2zM1788.5 314.6h2v3.8h-2zM1791.5 311.1h2v3.5h-2zM1794.5 311.1h2v2.3h-2zM1798.5 310.4h2v3.1h-2zM1801.5 309.2h2v1.2h-2zM1804.5 297.6h2v11.7h-2zM1807.5 289.2h2v8.4h-2zM1810.5 284.2h2v5.0h-2zM1813.5 282.5h2v1.7h-2zM1816.5 278.8h2v3.7h-2zM1819.5 278.8h2v2.0h-2zM1823.5 265.7h2v15.2h-2zM1826.5 265.7h2v4.3h-2zM1829.5 262.4h2v7.6h-2zM1832.5 262.4h2v4.9h-2zM1835.5 264.3h2v2.9h-2zM1838.5 262.7h2v1.6h-2zM1841.5 262.7h2v6.6h-2zM1844.5 265.8h2v3.4h-2zM1848.5 265.8h2v6.0h-2zM1851.5 258.1h2v13.7h-2zM1854.5 253.2h2v4.9h-2zM1857.5 244.9h2v8.3h-2zM1860.5 228.4h2v16.5h-2zM1863.5 224.8h2v3.6h-2zM1866.5 214.6h2v10.2h-2zM1869.5 214.6h2v1.2h-2zM1873.5 215.2h2v1.2h-2zM1876.5 214.7h2v1.2h-2zM1879.5 214.8h2v3.6h-2zM1882.5 218.4h2v5.3h-2zM1885.5 223.5h2v1.2h-2zM1888.5 224.4h2v1.2h-2zM1891.5 224.6h2v1.2h-2zM1894.5 223.8h2v1.2h-2zM1898.5 215.8h2v8.0h-2zM1901.5 215.8h2v6.4h-2zM1904.5 211.2h2v11.0h-2zM1907.5 211.2h2v10.8h-2zM1910.5 218.2h2v3.9h-2zM1913.5 218.2h2v10.6h-2zM1916.5 228.8h2v2.5h-2zM1919.5 231.3h2v2.0h-2zM1923.5 223.2h2v10.1h-2zM1926.5 222.0h2v1.2h-2zM1929.5 222.1h2v4.7h-2zM1932.5 226.8h2v2.7h-2zM1935.5 229.5h2v3.3h-2zM1938.5 226.2h2v6.7h-2zM1941.5 226.2h2v8.5h-2zM1944.5 233.6h2v1.2h-2zM1948.5 233.7h2v2.1h-2zM1951.5 230.9h2v4.9h-2zM1954.5 224.6h2v6.2h-2zM1957.5 224.6h2v1.2h-2zM1960.5 222.2h2v3.4h-2zM1963.5 222.0h2v1.2h-2zM1966.5 216.1h2v6.9h-2zM1969.5 215.3h2v1.2h-2zM1973.5 209.0h2v6.8h-2zM1976.5 194.3h2v14.7h-2zM1979.5 185.6h2v8.7h-2zM1982.5 180.5h2v5.2h-2zM1985.5 176.8h2v3.6h-2zM1988.5 176.0h2v1.2h-2zM1991.5 174.4h2v2.0h-2zM1994.5 174.4h2v7.2h-2zM1998.5 180.6h2v1.2h-2zM2001.5 180.8h2v2.4h-2zM2004.5 179.6h2v3.6h-2zM2007.5 178.1h2v1.5h-2zM2010.5 177.0h2v1.2h-2zM2013.5 177.1h2v3.5h-2zM2016.5 179.4h2v1.2h-2zM2019.5 179.4h2v3.8h-2zM2023.5 183.3h2v6.5h-2zM2026.5 189.7h2v1.2h-2zM2029.5 190.8h2v6.1h-2zM2032.5 196.9h2v1.8h-2zM2035.5 195.0h2v3.7h-2zM2038.5 195.0h2v8.3h-2zM2041.5 197.4h2v5.9h-2zM2044.5 196.3h2v1.2h-2zM2048.5 189.5h2v6.9h-2zM2051.5 184.0h2v5.4h-2zM2054.5 176.6h2v7.5h-2zM2057.5 173.8h2v2.7h-2zM2060.5 169.1h2v4.7h-2zM2063.5 169.1h2v2.8h-2zM2066.5 171.9h2v1.7h-2zM2069.5 170.8h2v2.9h-2zM2073.5 169.8h2v1.2h-2zM2076.5 170.0h2v6.0h-2zM2079.5 167.8h2v8.2h-2zM2082.5 164.9h2v2.9h-2zM2085.5 158.0h2v7.0h-2zM2088.5 158.0h2v3.7h-2zM2091.5 158.6h2v3.1h-2zM2094.5 158.6h2v3.4h-2zM2098.5 159.6h2v2.4h-2zM2101.5 159.6h2v1.7h-2zM2104.5 161.4h2v4.6h-2zM2107.5 165.7h2v1.2h-2zM2110.5 165.1h2v1.6h-2zM2113.5 163.7h2v1.4h-2zM2116.5 163.3h2v1.2h-2zM2119.5 163.1h2v1.2h-2z" stroke="#000" stroke-width="1.4" fill="#fff"/>
<!-- annotations -->
<text x="205.6" y="908.5" font-size="34" fill="#000" stroke="#000" stroke-width="0.9" textLength="307.4" lengthAdjust="spacingAndGlyphs">Shutdown: 16 days</text>
<text x="520.8" y="456.6" font-size="34" fill="#000" stroke="#000" stroke-width="0.9" textLength="286.8" lengthAdjust="spacingAndGlyphs">Shutdown: 3 days</text>
<text x="1055.8" y="561.3" font-size="34" fill="#000" stroke="#000" stroke-width="0.9" textLength="306.5" lengthAdjust="spacingAndGlyphs">Shutdown: 35 days</text>
<text x="1844.6" y="154.3" font-size="25.5" fill="#000" stroke="#000" stroke-width="1.0" textLength="125.3" lengthAdjust="spacingAndGlyphs">Shutdown</text>
<text x="1870" y="181.3" font-size="25.5" fill="#000" stroke="#000" stroke-width="1.0" textLength="79" lengthAdjust="spacingAndGlyphs">threat</text>
<text x="2104" y="222.2" font-size="25.5" fill="#000" stroke="#000" stroke-width="1.0" textLength="125.6" lengthAdjust="spacingAndGlyphs">Shutdown</text>
<text x="2130" y="248.8" font-size="25.5" fill="#000" stroke="#000" stroke-width="1.0" textLength="79" lengthAdjust="spacingAndGlyphs">threat</text>
<text x="1833" y="320.5" font-size="25.5" fill="#000" stroke="#000" stroke-width="1.0" textLength="124.8" lengthAdjust="spacingAndGlyphs">Shutdown</text>
<text x="1858" y="347.6" font-size="25.5" fill="#000" stroke="#000" stroke-width="1.0" textLength="78.4" lengthAdjust="spacingAndGlyphs">threat</text>
<!-- price axis -->
<text x="2375.5" y="80.9" font-size="14" letter-spacing="0.7" fill="#131722" clip-path="url(#clip200)">200,000</text>
<text x="2375.5" y="119.8" font-size="14" letter-spacing="0.7" fill="#131722">180,000</text>
<text x="2375.5" y="162.1" font-size="14" letter-spacing="0.7" fill="#131722">120,000</text>
<text x="2375.5" y="204.1" font-size="14" letter-spacing="0.7" fill="#131722">80,000</text>
<text x="2375.5" y="243.1" font-size="14" letter-spacing="0.7" fill="#131722">55,000</text>
<text x="2375.5" y="284.1" font-size="14" letter-spacing="0.7" fill="#131722">37,000</text>
<text x="2375.5" y="325.1" font-size="14" letter-spacing="0.7" fill="#131722">25,000</text>
<text x="2375.5" y="365.1" font-size="14" letter-spacing="0.7" fill="#131722">17,000</text>
<text x="2375.5" y="411.1" font-size="14" letter-spacing="0.7" fill="#131722">11,000</text>
<text x="2375.5" y="452.1" font-size="14" letter-spacing="0.7" fill="#131722">7,400</text>
<text x="2375.5" y="490.1" font-size="14" letter-spacing="0.7" fill="#131722">5,150</text>
<text x="2375.5" y="529.1" font-size="14" letter-spacing="0.7" fill="#131722">3,550</text>
<text x="2375.5" y="572.1" font-size="14" letter-spacing="0.7" fill="#131722">2,350</text>
<text x="2375.5" y="616.1" font-size="14" letter-spacing="0.7" fill="#131722">1,550</text>
<text x="2375.5" y="656.1" font-size="14" letter-spacing="0.7" fill="#131722">1,050</text>
<text x="2375.5" y="696.1" font-size="14" letter-spacing="0.7" fill="#131722">730</text>
<text x="2375.5" y="734.1" font-size="14" letter-spacing="0.7" fill="#131722">505</text>
<text x="2375.5" y="774.7" font-size="14" letter-spacing="0.7" fill="#131722">345</text>
<text x="2375.5" y="819.3" font-size="14" letter-spacing="0.7" fill="#131722">225</text>
<text x="2375.5" y="858.4" font-size="14" letter-spacing="0.7" fill="#131722">155</text>
<text x="2375.5" y="898.6" font-size="14" letter-spacing="0.7" fill="#131722">105</text>
<text x="2375.5" y="936.5" font-size="14" letter-spacing="0.7" fill="#131722">73</text>
<text x="2375.5" y="978.5" font-size="14" letter-spacing="0.7" fill="#131722">49</text>
<text x="2375.5" y="1019.5" font-size="14" letter-spacing="0.7" fill="#131722">33</text>
<text x="2375.5" y="1056.7" font-size="14" letter-spacing="0.7" fill="#131722">23</text>
<text x="2375.5" y="1095.0" font-size="14" letter-spacing="0.7" fill="#131722">16</text>
<text x="2375.5" y="1134.8" font-size="14" letter-spacing="0.7" fill="#131722">11</text>
<text x="2375.5" y="1181.3" font-size="14" letter-spacing="0.7" fill="#131722">7</text>
<rect x="2368.5" y="39.5" width="68" height="31" rx="5" fill="#fff" stroke="#efefef"/>
<text x="2380.5" y="59.7" font-size="14" fill="#131722">USD</text>
<rect x="2302" y="154.6" width="61.5" height="19.6" fill="#a7d8a9"/>
<rect x="2366" y="154.6" width="68.5" height="19.6" fill="#a7d8a9"/>
<text x="2307" y="169" font-size="14" fill="#0f2a14" textLength="52" lengthAdjust="spacingAndGlyphs">BTCUSD</text>
<text x="2376" y="169" font-size="14" fill="#0f2a14" textLength="53" lengthAdjust="spacingAndGlyphs">113,054</text>
<!-- time axis -->
<text x="45.6" y="1257.2" font-size="16" text-anchor="middle" fill="#131722" font-weight="bold">2013</text>
<text x="289.3" y="1257.2" font-size="16" text-anchor="middle" fill="#131722">Jul</text>
<text x="370" y="1257.2" font-size="16" text-anchor="middle" fill="#131722" font-weight="bold">2015</text>
<text x="451" y="1257.2" font-size="16" text-anchor="middle" fill="#131722">Jul</text>
<text x="532" y="1257.2" font-size="16" text-anchor="middle" fill="#131722" font-weight="bold">2016</text>
<text x="614" y="1257.2" font-size="16" text-anchor="middle" fill="#131722">Jul</text>
<text x="695" y="1257.2" font-size="16" text-anchor="middle" fill="#131722" font-weight="bold">2017</text>
<text x="776" y="1257.2" font-size="16" text-anchor="middle" fill="#131722">Jul</text>
<text x="938" y="1257.2" font-size="16" text-anchor="middle" fill="#131722">Jul</text>
<text x="1101" y="1257.2" font-size="16" text-anchor="middle" fill="#131722">Jul</text>
<text x="1185" y="1257.2" font-size="16" text-anchor="middle" fill="#131722" font-weight="bold">2020</text>
<text x="1267" y="1257.2" font-size="16" text-anchor="middle" fill="#131722">Jul</text>
<text x="1348" y="1257.2" font-size="16" text-anchor="middle" fill="#131722" font-weight="bold">2021</text>
<text x="1430" y="1257.2" font-size="16" text-anchor="middle" fill="#131722">Jul</text>
<text x="1510" y="1257.2" font-size="16" text-anchor="middle" fill="#131722" font-weight="bold">2022</text>
<text x="1592" y="1257.2" font-size="16" text-anchor="middle" fill="#131722">Jul</text>
<text x="1673" y="1257.2" font-size="16" text-anchor="middle" fill="#131722" font-weight="bold">2023</text>
<text x="1916.6" y="1257.2" font-size="16" text-anchor="middle" fill="#131722">Jul</text>
<text x="2082.5" y="1257.2" font-size="16" text-anchor="middle" fill="#131722">Jul</text>
<text x="2164" y="1257.2" font-size="16" text-anchor="middle" fill="#131722" font-weight="bold">2026</text>
<text x="2245" y="1257.2" font-size="16" text-anchor="middle" fill="#131722">Jul</text>
<text x="2326.7" y="1257.2" font-size="16" text-anchor="middle" fill="#131722" font-weight="bold">2027</text>
<text x="1836" y="1257.2" font-size="16" text-anchor="middle" fill="#131722" font-weight="bold">2024</text>
<rect x="107" y="1234" width="120.0" height="29.6" fill="#089981"/>
<text x="167.0" y="1257.2" font-size="16" text-anchor="middle" fill="#fff" textLength="98.0" lengthAdjust="spacingAndGlyphs">Mon 07 Oct '13</text>
<rect x="807" y="1234" width="119.7" height="29.6" fill="#f23645"/>
<text x="866.9" y="1257.2" font-size="16" text-anchor="middle" fill="#fff" textLength="97.7" lengthAdjust="spacingAndGlyphs">Mon 22 Jan '18</text>
<rect x="960" y="1234" width="121.0" height="29.6" fill="#089981"/>
<text x="1020.5" y="1257.2" font-size="16" text-anchor="middle" fill="#fff" textLength="99.0" lengthAdjust="spacingAndGlyphs">Mon 31 Dec '18</text>
<rect x="1732" y="1234" width="119.8" height="29.6" fill="#089981"/>
<text x="1791.9" y="1257.2" font-size="16" text-anchor="middle" fill="#fff" textLength="97.8" lengthAdjust="spacingAndGlyphs">Mon 25 Sep '23</text>
<rect x="1935" y="1234" width="120.8" height="29.6" fill="#f23645"/>
<text x="1995.4" y="1257.2" font-size="16" text-anchor="middle" fill="#fff" textLength="98.8" lengthAdjust="spacingAndGlyphs">Mon 23 Dec '24</text>
<!-- widget -->
<g clip-path="url(#thumb)">
<rect x="2021.6" y="288.2" width="45.4" height="45.5" fill="url(#sky)"/>
<rect x="2021.6" y="312" width="20" height="14" fill="#8a8f8a"/>
<path d="M2040 317 L2046 313 L2046 308 A8 8 0 0 1 2062 308 L2062 313 L2067 315 L2067 324 L2040 324Z" fill="#b9b797"/>
<rect x="2053" y="297" width="2.4" height="4" fill="#8d8a70"/>
<rect x="2046" y="309" width="16" height="2.2" fill="#6f6c4e"/>
<rect x="2041" y="314" width="26" height="2" fill="#7d7a5c"/>
<rect x="2027" y="320" width="38" height="6" fill="#d8d6c4"/>
<rect x="2030" y="321" width="2" height="5" fill="#555"/><rect x="2035" y="321" width="2" height="5" fill="#555"/><rect x="2040" y="321" width="2" height="5" fill="#555"/>
<rect x="2021.6" y="326" width="45.4" height="8" fill="#50544f"/>
<rect x="2021.6" y="288.2" width="45.4" height="45.5" fill="url(#vig)"/>
</g>
<text x="2082" y="304.7" font-size="19.5" fill="#131722" textLength="249" lengthAdjust="spacingAndGlyphs">US government shutdown by</text>
<text x="2082" y="330.3" font-size="19.5" fill="#131722" textLength="97" lengthAdjust="spacingAndGlyphs">October 1?</text>
<line x1="2008" y1="353.7" x2="2352" y2="353.7" stroke="#eceef2" stroke-width="1.5"/>
<text x="2022.6" y="394.4" font-size="28" fill="#3c5fd6" textLength="160.5" lengthAdjust="spacingAndGlyphs">82% chance</text>
<path d="M2202.8 391.4 L2208.8 381.6 L2214.9 391.4 Z" fill="#46a06a"/>
<text x="2220" y="393" font-size="18" fill="#5aa374" textLength="35" lengthAdjust="spacingAndGlyphs">28%</text>

<!-- logo -->
<text x="61.3" y="1315.2" font-size="26.5" font-weight="bold" fill="#000" textLength="151.5" lengthAdjust="spacingAndGlyphs">TradingView</text>
<path d="M15.6 1296.1H30.1V1315H22.8V1303.4H15.6Z" fill="#000"/>
<circle cx="37" cy="1300" r="3.2" fill="#000"/>
<path d="M42.9 1296.1H52.1L47 1315H37.4Z" fill="#000"/>
<path d="M2131.9 1213.7 A11.6 11.6 0 0 1 2111.9 1224.6 M2109.6 1214.1 A11.6 11.6 0 0 1 2123.8 1205.9" fill="none" stroke="#6a3f8e" stroke-width="1.9"/><circle cx="2129.2" cy="1208.7" r="3.1" fill="#e8323c"/><path d="M2107.4 1214.8 Q2108.4 1220.5 2113.6 1221.5 Q2108.4 1222.5 2107.4 1228.2 Q2106.4 1222.5 2101.2 1221.5 Q2106.4 1220.5 2107.4 1214.8Z" fill="#7050ee"/><path d="M2123.5 1211.3 L2116.3 1218.3 L2124.2 1217.3 L2117 1223.6" fill="none" stroke="#6e2f8a" stroke-width="1.9" stroke-linejoin="miter"/>

</svg>
</body></html>
